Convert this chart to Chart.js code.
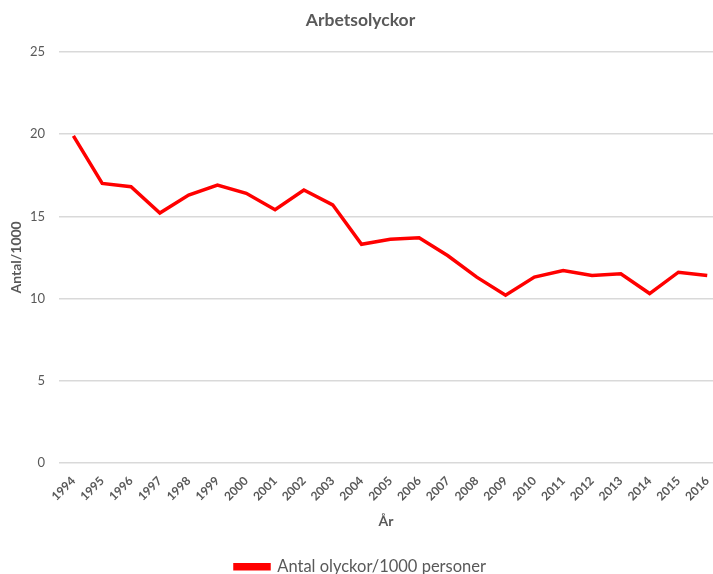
<!DOCTYPE html>
<html>
<head>
<meta charset="utf-8">
<script src="https://cdn.jsdelivr.net/npm/chart.js@4"></script>
<style>
    html, body { margin: 0; padding: 0; background: #fff; }
    #wrap { width: 713px; height: 574px; }
</style>
</head>
<body>
<div id="wrap"><canvas id="chart"></canvas></div>
<script>
const years = [1994, 1995, 1996, 1997, 1998, 1999, 2000, 2001, 2002, 2003, 2004, 2005,
    2006, 2007, 2008, 2009, 2010, 2011, 2012, 2013, 2014, 2015, 2016];
const olyckor = [19.9, 17.0, 16.8, 15.2, 16.3, 16.9, 16.4, 15.4, 16.6, 15.7, 13.3, 13.6,
    13.7, 12.6, 11.3, 10.2, 11.3, 11.7, 11.4, 11.5, 10.3, 11.6, 11.4];
const yTicks = [0, 5, 10, 15, 20, 25];

const grey = '#595959';
const font = 'Lato, "Open Sans", sans-serif';

const points = years.map((yr, i) => ({ x: yr, y: olyckor[i] }));

var ctx = document.getElementById('chart').getContext('2d');

new Chart(ctx, {
    type: 'line',
    data: {
        datasets: [{
            label: 'Antal olyckor/1000 personer',
            data: points,
            borderColor: '#ff0000',
            backgroundColor: '#ff0000',
            borderWidth: 3.5,
            pointRadius: 0,
            tension: 0
        }]
    },
    options: {
        responsive: true,
        maintainAspectRatio: false,
        animation: false,
        layout: {
            padding: { left: 8, right: 0, top: 8, bottom: -11 }
        },
        plugins: {
            title: {
                display: true,
                text: 'Arbetsolyckor',
                color: grey,
                font: { family: font, size: 17.5, weight: 'bold' },
                padding: { top: 2, bottom: 21 }
            },
            legend: {
                position: 'bottom',
                labels: {
                    color: grey,
                    font: { family: font, size: 16.5 },
                    boxWidth: 34,
                    boxHeight: 4,
                    padding: 2
                }
            },
            tooltip: { enabled: false }
        },
        scales: {
            x: {
                type: 'linear',
                min: 1993.5,
                max: 2016.2,
                afterBuildTicks: (scale) => {
                    scale.ticks = years.map(v => ({ value: v }));
                },
                afterFit: (scale) => {
                    // rotated labels would otherwise push the plot inwards
                    scale.paddingLeft = 0;
                    scale.paddingRight = 0;
                },
                grid: { display: false },
                border: { display: false },
                ticks: {
                    color: grey,
                    font: { family: font, size: 12, weight: 'bold' },
                    maxRotation: 45,
                    minRotation: 45,
                    autoSkip: false,
                    padding: 3,
                    callback: (v) => String(v)
                },
                title: {
                    display: true,
                    text: 'År',
                    color: grey,
                    font: { family: font, size: 14, weight: 'bold' },
                    padding: { top: 6, bottom: 27 }
                }
            },
            y: {
                min: 0,
                max: 25,
                afterBuildTicks: (scale) => {
                    scale.ticks = yTicks.map(v => ({ value: v }));
                },
                afterFit: (scale) => {
                    scale.width = 51;
                },
                grid: { color: '#d9d9d9', lineWidth: 1.5, drawTicks: false },
                border: { display: false },
                ticks: {
                    color: grey,
                    font: { family: font, size: 13 },
                    padding: 14
                },
                title: {
                    display: true,
                    text: 'Antal/1000',
                    color: grey,
                    font: { family: font, size: 14, weight: 'bold' },
                    padding: { top: 0, bottom: 2 }
                }
            }
        }
    }
});
</script>
</body>
</html>
